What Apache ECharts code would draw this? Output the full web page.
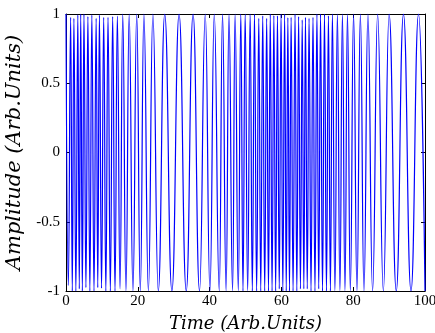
<!DOCTYPE html>
<html><head><meta charset="utf-8">
<script src="https://cdn.jsdelivr.net/npm/echarts@6/dist/echarts.min.js"></script>
<style>html,body{margin:0;padding:0;background:#fff}#c{width:435px;height:333px}</style>
</head><body><div id="c"></div>
<script>
// Local maxima of the signal (time, amplitude)
const peakTimes = [0, 1.3, 2.2, 3.3, 4.1, 5.0, 6.1, 7.2, 8.4, 9.3, 10.5, 11.7, 13.0, 14.3, 15.8, 17.6, 19.7, 21.7, 24.2,
  27.5, 31.5, 35.4, 38.8, 41.3, 43.6, 45.4, 47.1,
  48.7, 49.9, 51.3, 52.5, 53.7, 54.8, 55.9, 56.9, 57.9, 58.9, 59.9, 60.9, 61.8, 62.7, 63.8, 64.8, 65.8, 66.7, 67.7, 68.8, 69.9, 70.9, 72.0, 73.1, 74.2,
  75.6, 77.0, 78.4, 80.1, 82.0, 84.1, 86.8, 90.0, 94.0, 98.2];
const peakValues = [1, 0.976, 0.969, 0.993, 1, 1, 0.981, 0.993, 0.969, 0.993, 0.976, 0.976, 0.981, 0.985, 1, 1, 1, 1, 1,
  1, 1, 1, 1, 1, 1, 1, 1,
  1, 1, 1, 1, 0.969, 0.986, 0.969, 1, 0.988, 0.986, 1, 1, 0.974, 0.976, 1, 0.981, 0.957, 0.976, 0.969, 0.976, 1, 1, 1, 0.986, 1,
  1, 1, 1, 1, 1, 1, 1, 1, 1, 1];
// Local minima of the signal
const troughTimes = [0.65, 1.75, 2.75, 3.7, 4.55, 5.55, 6.65, 7.8, 8.85, 9.9, 11.1, 12.35, 13.65, 15.05, 16.7, 18.65, 20.7, 22.95, 25.7,
  29.5, 33.5, 37.2, 40.1, 42.7, 44.6, 46.4, 48.0,
  49.3, 50.6, 51.9, 53.1, 54.25, 55.35, 56.4, 57.4, 58.4, 59.4, 60.4, 61.35, 62.25, 63.25, 64.3, 65.3, 66.25, 67.2, 68.25, 69.35, 70.4, 71.45, 72.55, 73.65,
  74.9, 76.3, 77.7, 79.2, 81.05, 83.0, 85.4, 88.4, 92.0, 96.1, 100];
const troughValues = [-0.96, -1, -1, -0.985, -1, -0.975, -1, -1, -0.975, -0.98, -1, -1, -1, -0.985, -1, -1, -1, -1, -1,
  -1, -1, -1, -1, -1, -1, -1, -1,
  -1, -1, -1, -1, -1, -1, -1, -1, -1, -0.985, -1, -1, -1, -1, -1, -0.985, -0.985, -0.985, -1, -1, -0.985, -1, -1, -1,
  -1, -1, -1, -1, -1, -1, -1, -1, -1, -1, -1];
const xTicks = [0, 20, 40, 60, 80, 100];
const yTicks = [-1, -0.5, 0, 0.5, 1];
const xTitle = 'Time (Arb.Units)';
const yTitle = 'Amplitude (Arb.Units)';

const pts = [];
peakTimes.forEach((t, i) => pts.push([t, peakValues[i]]));
troughTimes.forEach((t, i) => pts.push([t, troughValues[i]]));
pts.sort((a, b) => a[0] - b[0]);

const font = 'Liberation Serif';
const titleFont = 'DejaVu Serif';
const chart = echarts.init(document.getElementById('c'), null, {renderer: 'canvas'});
const axLine = {show: true, onZero: false, lineStyle: {color: '#000', width: 1}};
const tick = {show: true, inside: true, length: 4, lineStyle: {color: '#000'}};
chart.setOption({
  animation: false,
  grid: {left: 66, right: 10, top: 14, bottom: 42, show: false, containLabel: false, outerBoundsMode: 'none'},
  xAxis: [
    {type: 'value', min: 0, max: 100, interval: 20, position: 'bottom',
     axisLine: axLine, axisTick: tick, splitLine: {show: false},
     axisLabel: {color: '#000', fontFamily: font, fontSize: 15, margin: 3,
       formatter: v => xTicks.includes(v) ? String(v) : ''},
     name: xTitle, nameLocation: 'middle', nameGap: 24,
     nameTextStyle: {color: '#000', fontFamily: titleFont, fontStyle: 'italic', fontSize: 18}},
    {type: 'value', min: 0, max: 100, interval: 20, position: 'top',
     axisLine: axLine, axisTick: tick, splitLine: {show: false}, axisLabel: {show: false}}
  ],
  yAxis: [
    {type: 'value', min: -1, max: 1, interval: 0.5, position: 'left',
     axisLine: axLine, axisTick: tick, splitLine: {show: false},
     axisLabel: {color: '#000', fontFamily: font, fontSize: 15, margin: 6,
       formatter: v => yTicks.includes(v) ? String(v) : ''},
     name: yTitle, nameLocation: 'middle', nameGap: 38, nameRotate: 90,
     nameTextStyle: {color: '#000', fontFamily: titleFont, fontStyle: 'italic', fontSize: 21}},
    {type: 'value', min: -1, max: 1, interval: 0.5, position: 'right',
     axisLine: axLine, axisTick: tick, splitLine: {show: false}, axisLabel: {show: false}}
  ],
  series: [{
    type: 'line', data: pts, xAxisIndex: 0, yAxisIndex: 0,
    showSymbol: false, smooth: 0.5, smoothMonotone: 'x',
    lineStyle: {color: '#0000ff', width: 1.2}, clip: true
  }]
});
</script></body></html>
